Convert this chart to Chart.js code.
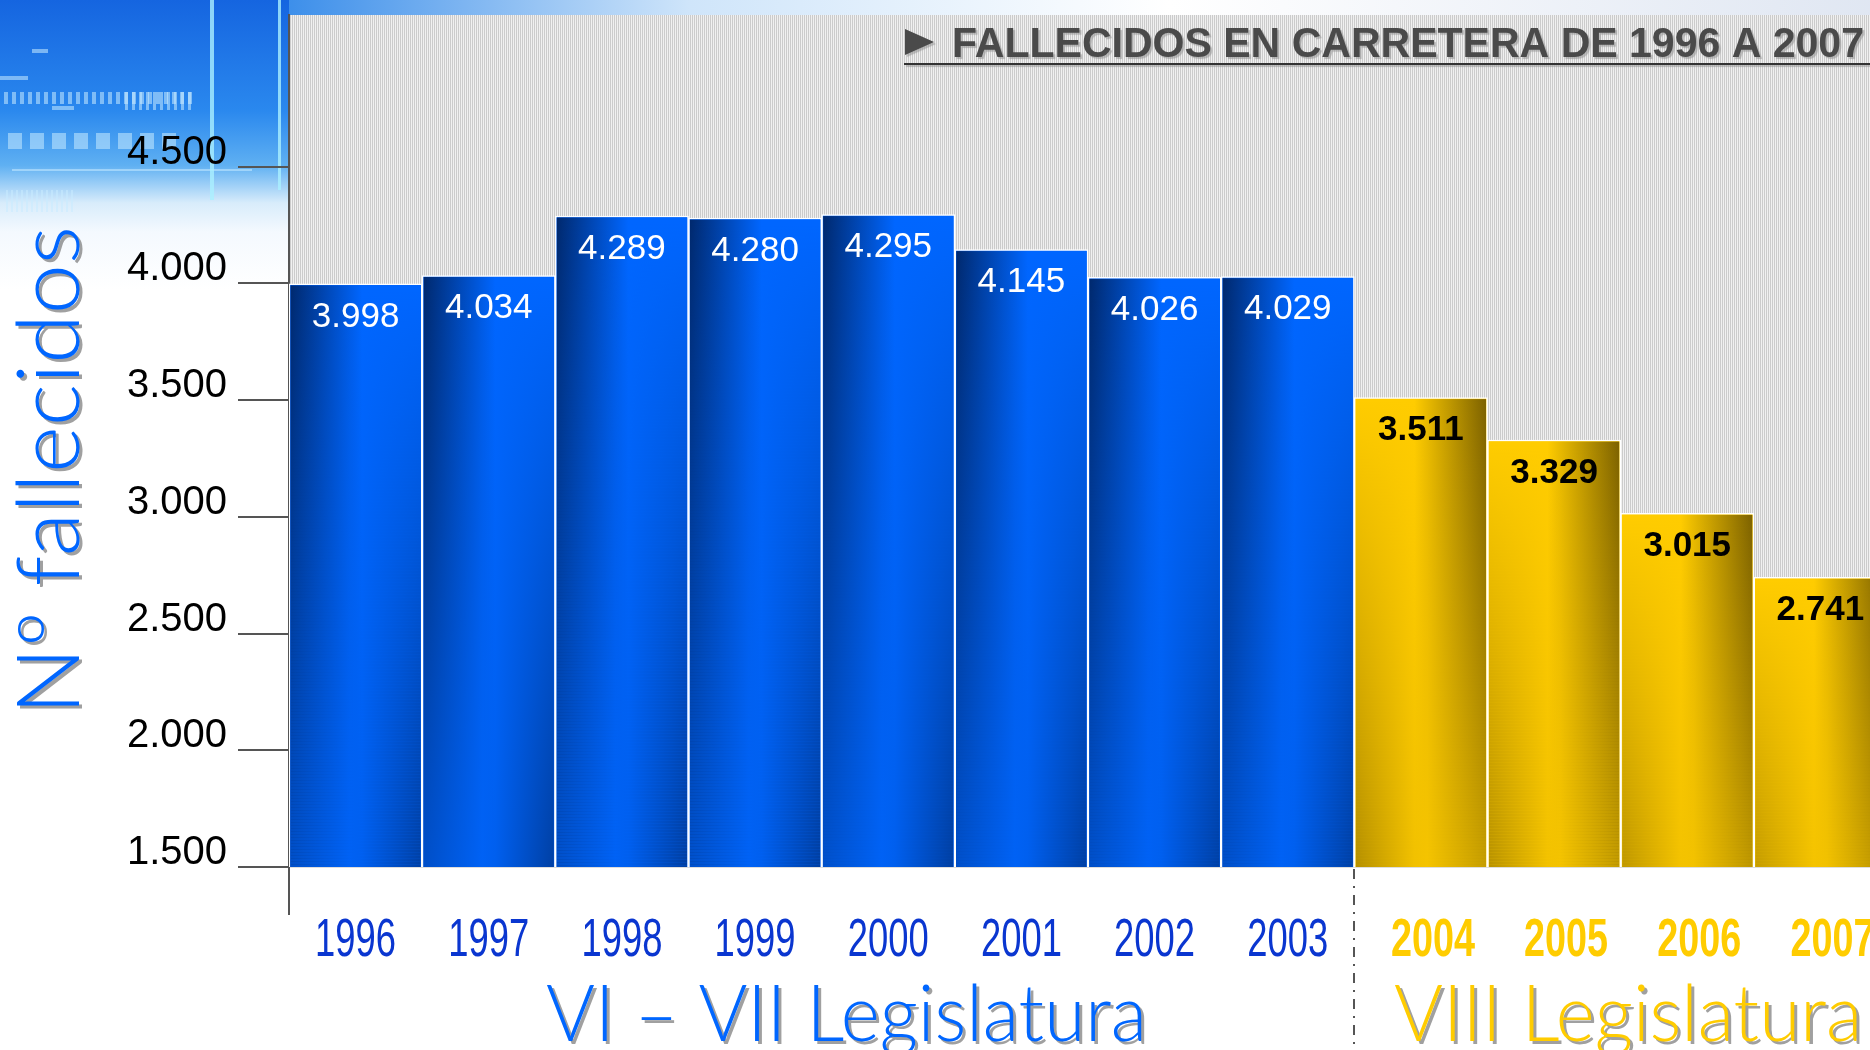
<!DOCTYPE html>
<html>
<head>
<meta charset="utf-8">
<title>Fallecidos en carretera 1996-2007</title>
<script src="https://cdn.jsdelivr.net/npm/chart.js@4.4.1/dist/chart.umd.min.js"></script>
<style>
  html, body { margin: 0; padding: 0; overflow: hidden; background: #fff; }
  #wrap { position: relative; width: 1890px; height: 1050px; }
</style>
</head>
<body>
<div id="wrap"><canvas id="chart" width="1890" height="1050"></canvas></div>
<script>
// data
const years = ["1996", "1997", "1998", "1999", "2000", "2001", "2002", "2003", "2004", "2005", "2006", "2007"];
const deaths = [3998, 4034, 4289, 4280, 4295, 4145, 4026, 4029, 3511, 3329, 3015, 2741];
const legislatures = ["VI – VII Legislatura", "VIII Legislatura"];
const legislatureOf = [0, 0, 0, 0, 0, 0, 0, 0, 1, 1, 1, 1];
const yTicks = [1500, 2000, 2500, 3000, 3500, 4000, 4500];
const yTickLabels = ["1.500", "2.000", "2.500", "3.000", "3.500", "4.000", "4.500"];
const chartTitle = "FALLECIDOS EN CARRETERA DE 1996 A 2007";
const yTitle = "Nº fallecidos";

const SANS = "'Liberation Sans', Arial, sans-serif";
const ROUND = "Lato, 'DejaVu Sans', sans-serif";

const BLUE = "#0066ff", BLUE_DARK = "#00296e";
const GOLD = "#ffcc00", GOLD_DARK = "#7d6200";

function fmt(v) {
  return Math.floor(v / 1000) + "." + String(v % 1000).padStart(3, "0");
}

function stripePattern(ctx) {
  const c = document.createElement("canvas");
  c.width = 2; c.height = 1;
  const g = c.getContext("2d");
  g.fillStyle = "#cbcbcb"; g.fillRect(0, 0, 1, 1);
  g.fillStyle = "#f0f0f0"; g.fillRect(1, 0, 1, 1);
  return ctx.createPattern(c, "repeat");
}

// text squeezed/stretched horizontally to a given width
function fitText(ctx, text, x, y, width) {
  const w = ctx.measureText(text).width;
  ctx.save();
  ctx.translate(x, y);
  ctx.scale(width / w, 1);
  ctx.fillText(text, 0, 0);
  ctx.restore();
}

const background = {
  id: "background",
  beforeDraw(chart) {
    const ctx = chart.ctx, a = chart.chartArea;
    ctx.save();
    ctx.fillStyle = "#fff";
    ctx.fillRect(0, 0, chart.width, chart.height);

    // blue picture in the top-left corner
    let g = ctx.createLinearGradient(0, 0, 0, 290);
    g.addColorStop(0, "#1565e0");
    g.addColorStop(0.38, "#2a88ee");
    g.addColorStop(0.57, "#5fb0f2");
    g.addColorStop(0.7, "#d8ecfb");
    g.addColorStop(0.8, "#f4f9fe");
    g.addColorStop(1, "#ffffff");
    ctx.fillStyle = g;
    ctx.fillRect(0, 0, a.left, 290);
    ctx.fillStyle = "rgba(200,235,255,0.55)";
    for (let i = 0; i < 24; i++) ctx.fillRect(4 + i * 8, 92, 4, 12);
    for (let i = 0; i < 10; i++) ctx.fillRect(125 + i * 7, 92, 3, 18);
    for (let i = 0; i < 8; i++) ctx.fillRect(8 + i * 22, 133, 14, 16);
    for (let i = 0; i < 14; i++) ctx.fillRect(6 + i * 5, 190, 2, 22);
    ctx.fillRect(0, 76, 28, 4);
    ctx.fillRect(32, 49, 16, 4);
    ctx.fillRect(52, 106, 22, 4);
    ctx.fillRect(12, 169, 240, 2);
    ctx.fillStyle = "rgba(170,240,255,0.8)";
    ctx.fillRect(210, 0, 4, 200);
    ctx.fillRect(278, 0, 3, 190);

    // strip above the plot
    g = ctx.createLinearGradient(a.left, 0, chart.width, 0);
    g.addColorStop(0, "#3d8fea");
    g.addColorStop(0.25, "#cfe5fa");
    g.addColorStop(0.55, "#ffffff");
    g.addColorStop(1, "#dfe6f2");
    ctx.fillStyle = g;
    ctx.fillRect(a.left, 0, chart.width - a.left, a.top);

    // striped plot area
    ctx.fillStyle = stripePattern(ctx);
    ctx.fillRect(a.left, a.top, a.right - a.left, a.bottom - a.top);
    ctx.restore();
  }
};

const barShading = {
  id: "barShading",
  afterDatasetDraw(chart, args) {
    const ctx = chart.ctx, a = chart.chartArea;
    ctx.save();
    ctx.beginPath();
    ctx.rect(a.left, a.top, a.right - a.left, a.bottom - a.top);
    ctx.clip();
    args.meta.data.forEach((bar, i) => {
      const p = bar.getProps(["x", "y", "width", "base"], true);
      const bw = 1.5;
      const x0 = p.x - p.width / 2 + bw, x1 = p.x + p.width / 2 - bw;
      const y0 = p.y + bw, y1 = p.base;
      const blue = legislatureOf[i] === 0;
      const gTop = ctx.createLinearGradient(x0, 0, x1, 0);
      const gBot = ctx.createLinearGradient(x0, 0, x1, 0);
      if (blue) {
        gTop.addColorStop(0, BLUE_DARK); gTop.addColorStop(0.55, BLUE); gTop.addColorStop(1, BLUE);
        gBot.addColorStop(0, BLUE); gBot.addColorStop(0.45, BLUE); gBot.addColorStop(1, BLUE_DARK);
      } else {
        gTop.addColorStop(0, GOLD); gTop.addColorStop(0.45, GOLD); gTop.addColorStop(1, GOLD_DARK);
        gBot.addColorStop(0, GOLD_DARK); gBot.addColorStop(0.55, GOLD); gBot.addColorStop(1, GOLD);
      }
      ctx.globalAlpha = 1;
      ctx.fillStyle = gTop;
      ctx.fillRect(x0, y0, x1 - x0, y1 - y0);
      const step = 3, n = Math.ceil((y1 - y0) / step);
      ctx.fillStyle = gBot;
      for (let s = 0; s < n; s++) {
        const yy = y0 + s * step;
        ctx.globalAlpha = (s + 0.5) / n;
        ctx.fillRect(x0, yy, x1 - x0, Math.min(step, y1 - yy));
      }
    });
    ctx.restore();
  }
};

const valueLabels = {
  id: "valueLabels",
  afterDatasetsDraw(chart) {
    const ctx = chart.ctx;
    const meta = chart.getDatasetMeta(0);
    ctx.save();
    ctx.textAlign = "center";
    ctx.textBaseline = "middle";
    meta.data.forEach((bar, i) => {
      const blue = legislatureOf[i] === 0;
      ctx.font = (blue ? "" : "bold ") + "35px " + SANS;
      ctx.fillStyle = blue ? "#ffffff" : "#000000";
      ctx.fillText(fmt(deaths[i]), bar.x, bar.y + 33);
    });
    ctx.restore();
  }
};

const decorations = {
  id: "decorations",
  afterDraw(chart) {
    const ctx = chart.ctx, a = chart.chartArea, xs = chart.scales.x;
    ctx.save();

    // y axis line continues below the plot
    ctx.strokeStyle = "#555";
    ctx.lineWidth = 2;
    ctx.beginPath();
    ctx.moveTo(a.left, a.bottom);
    ctx.lineTo(a.left, a.bottom + 48);
    ctx.stroke();

    // year labels under the bars (narrow type)
    ctx.textAlign = "left";
    ctx.textBaseline = "middle";
    years.forEach((yr, i) => {
      const blue = legislatureOf[i] === 0;
      ctx.font = (blue ? "" : "bold ") + "54px " + SANS;
      ctx.fillStyle = blue ? "#0a36d0" : GOLD;
      const w = blue ? 81 : 84;
      const shift = blue ? 0 : 12;
      fitText(ctx, yr, xs.getPixelForValue(i) - w / 2 + shift, 941, w);
    });

    // separator between legislatures
    const split = legislatureOf.indexOf(1);
    const sx = Math.round((xs.getPixelForValue(split - 1) + xs.getPixelForValue(split)) / 2);
    ctx.setLineDash([10, 7, 2, 7]);
    ctx.beginPath();
    ctx.moveTo(sx, a.bottom + 2);
    ctx.lineTo(sx, chart.height);
    ctx.stroke();
    ctx.setLineDash([]);

    // legislature names
    ctx.font = "300 78px " + ROUND;
    ctx.textBaseline = "alphabetic";
    ctx.textAlign = "left";
    ctx.shadowColor = "rgba(120,120,120,0.7)";
    ctx.shadowOffsetX = 3;
    ctx.shadowOffsetY = 3;
    const w0 = ctx.measureText(legislatures[0]).width;
    const sq = 601 / w0;
    ctx.fillStyle = BLUE;
    fitText(ctx, legislatures[0], 546, 1041, 601);
    ctx.fillStyle = GOLD;
    fitText(ctx, legislatures[1], sx + 40, 1041, ctx.measureText(legislatures[1]).width * sq);

    // y axis title
    ctx.save();
    ctx.translate(79, 471);
    ctx.rotate(-Math.PI / 2);
    ctx.font = "300 86px " + ROUND;
    ctx.textAlign = "left";
    ctx.fillStyle = BLUE;
    fitText(ctx, yTitle, -244, 0, 489);
    ctx.restore();

    // title box
    ctx.shadowColor = "rgba(150,150,150,0.6)";
    ctx.shadowOffsetX = 2;
    ctx.shadowOffsetY = 2;
    ctx.shadowBlur = 1;
    ctx.fillStyle = "#4a4a4a";
    ctx.beginPath();
    ctx.moveTo(905, 29);
    ctx.lineTo(934, 42);
    ctx.lineTo(905, 55);
    ctx.closePath();
    ctx.fill();
    ctx.font = "bold 43px " + SANS;
    ctx.textAlign = "left";
    fitText(ctx, chartTitle, 952, 57, 912);
    ctx.fillStyle = "#333";
    ctx.fillRect(904, 63, chart.width - 904, 2);
    ctx.restore();
  }
};

new Chart(document.getElementById("chart"), {
  type: "bar",
  data: {
    labels: years,
    datasets: [{
      data: deaths,
      backgroundColor: legislatureOf.map(l => l === 0 ? BLUE : GOLD),
      borderColor: "#ffffff",
      borderWidth: 1.5,
      barPercentage: 1,
      categoryPercentage: 1
    }]
  },
  options: {
    responsive: false,
    animation: false,
    layout: { padding: { top: 15, right: 3, left: 0, bottom: 0 } },
    plugins: { legend: { display: false }, tooltip: { enabled: false } },
    scales: {
      x: {
        afterFit: (axis) => {
          axis.height = 183;
          axis.paddingLeft = 0; axis.paddingRight = 0;
        },
        grid: { display: false, drawTicks: false },
        border: { display: true, color: "#dddddd", width: 2 },
        ticks: { display: false }
      },
      y: {
        min: 1500,
        max: 5150,
        afterFit: (axis) => {
          axis.width = 289;
          axis.paddingTop = 0; axis.paddingBottom = 0;
        },
        afterBuildTicks: (axis) => { axis.ticks = yTicks.map(v => ({ value: v })); },
        grid: { drawOnChartArea: false, drawTicks: true, tickLength: 51, color: "#555", lineWidth: 2 },
        border: { display: true, color: "#555", width: 2 },
        ticks: {
          padding: 11,
          labelOffset: -14,
          color: "#000",
          font: { family: SANS, size: 40 },
          callback: (v) => yTickLabels[yTicks.indexOf(v)]
        }
      }
    }
  },
  plugins: [background, barShading, valueLabels, decorations]
});
</script>
</body>
</html>
